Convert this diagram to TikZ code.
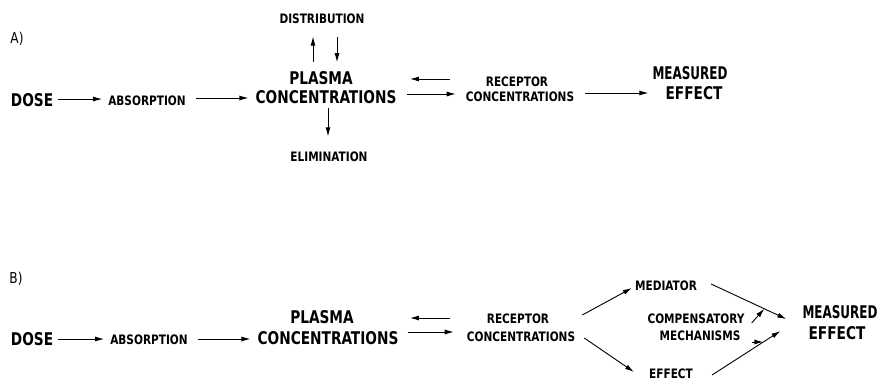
\documentclass[tikz,border=0pt]{standalone}
\usepackage{fontspec}
\usetikzlibrary{arrows.meta}
\newfontfamily\mybigfont[FakeStretch=0.87]{DejaVu Sans Condensed}
\newfontfamily\mymeasfont[FakeStretch=0.76]{DejaVu Sans Condensed}
\newfontfamily\mysmallfont[FakeStretch=0.9]{DejaVu Sans Condensed}
\begin{document}
\begin{tikzpicture}[x=1pt,y=-1pt,
  big/.style={inner sep=0pt,font=\mybigfont\bfseries\fontsize{17.5}{20}\selectfont},
  bigM/.style={inner sep=0pt,font=\mymeasfont\bfseries\fontsize{17.5}{20}\selectfont},
  small/.style={inner sep=0pt,font=\mysmallfont\bfseries\fontsize{13}{16}\selectfont},
  panel/.style={inner sep=0pt,font=\mysmallfont\fontsize{15}{18}\selectfont},
  arr/.style={line width=0.9pt,-{Latex[length=9pt,width=5pt]}}]
\useasboundingbox (0,0) rectangle (881,381);
% ---------- A ----------
\node[panel] (lblA) at (17,39) {A)};
\node[small] (distA) at (322,19) {DISTRIBUTION};
\node[big] (plasmaA) at (321,78) {PLASMA};
\node[big] (concA) at (326,97) {CONCENTRATIONS};
\node[small] (elimA) at (329,157) {ELIMINATION};
\node[big] (doseA) at (32,100) {DOSE};
\node[small] (absA) at (147,101) {ABSORPTION};
\node[small] (recA) at (517,82) {RECEPTOR};
\node[small] (rconcA) at (520,97) {CONCENTRATIONS};
\node[bigM] (measA) at (690,73) {MEASURED};
\node[big] (effA) at (694,93) {EFFECT};
\draw[arr] ([xshift=5pt,yshift=1pt]doseA.east) -- ([xshift=-6pt,yshift=2pt]absA.west);
\draw[arr] ([xshift=10.5pt,yshift=3pt]absA.east) -- ([xshift=-7pt,yshift=-1pt]concA.west);
\draw[arr] ([xshift=-8pt,yshift=9pt]plasmaA.north) -- ([xshift=-9pt,yshift=-12.5pt]distA.south);
\draw[arr] ([xshift=15pt,yshift=-12.5pt]distA.south) -- ([xshift=16pt,yshift=9pt]plasmaA.north);
\draw[arr] ([xshift=2pt,yshift=-4.5pt]concA.south) -- ([xshift=-1pt,yshift=15.5pt]elimA.north);
\draw[arr] ([xshift=-36pt,yshift=3pt]recA.west) -- ([xshift=57pt,yshift=-1pt]plasmaA.east);
\draw[arr] ([xshift=10pt,yshift=3pt]concA.east) -- ([xshift=-10pt,yshift=3pt]rconcA.west);
\draw[arr] ([xshift=11pt,yshift=4pt]rconcA.east) -- ([xshift=-17pt]effA.west);
% ---------- B ----------
\node[panel] (lblB) at (16,279) {B)};
\node[big] (plasmaB) at (322,317) {PLASMA};
\node[big] (concB) at (328,338) {CONCENTRATIONS};
\node[big] (doseB) at (32,339) {DOSE};
\node[small] (absB) at (149,340) {ABSORPTION};
\node[small] (recB) at (518,319) {RECEPTOR};
\node[small] (rconcB) at (521,337) {CONCENTRATIONS};
\node[small] (medB) at (666,286) {MEDIATOR};
\node[small] (effectB) at (671,374) {EFFECT};
\node[small] (compB) at (696,319) {COMPENSATORY};
\node[small] (mechB) at (700,336) {MECHANISMS};
\node[bigM] (measB) at (840,312) {MEASURED};
\node[big] (meffB) at (837,333) {EFFECT};
\draw[arr] ([xshift=5pt]doseB.east) -- ([xshift=-6pt,yshift=1pt]absB.west);
\draw[arr] ([xshift=10pt,yshift=1pt]absB.east) -- ([xshift=-7pt,yshift=-1pt]concB.west);
\draw[arr] ([xshift=-37pt,yshift=1pt]recB.west) -- ([xshift=56pt,yshift=-1pt]plasmaB.east);
\draw[arr] ([xshift=9pt,yshift=6pt]concB.east) -- ([xshift=-13pt,yshift=5pt]rconcB.west);
\draw[arr] ([xshift=7pt,yshift=22pt]rconcB.east) -- ([xshift=-3pt,yshift=-2pt]medB.west);
\draw[arr] ([xshift=9pt,yshift=-1pt]rconcB.east) -- ([xshift=-15pt,yshift=2pt]effectB.west);
\draw[arr] ([xshift=14pt,yshift=2pt]medB.east) -- coordinate[pos=0.707] (c1) ([xshift=-16pt,yshift=-7pt]measB.west);
\draw[arr] ([xshift=19pt,yshift=-1pt]effectB.east) -- coordinate[pos=0.75] (c2) ([xshift=-28pt,yshift=2pt]meffB.west);
\draw[arr] ([xshift=7pt,yshift=-4pt]compB.east) -- (c1);
\draw[arr] ([xshift=11pt,yshift=-6pt]mechB.east) -- (c2);
\end{tikzpicture}
\end{document}
